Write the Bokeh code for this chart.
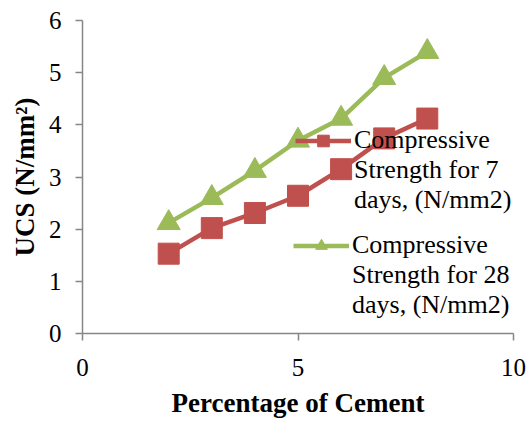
from bokeh.plotting import figure
from bokeh.models import Legend, LegendItem, Range1d, FixedTicker
from bokeh.embed import file_html
from bokeh.resources import INLINE

cement = [2, 3, 4, 5, 6, 7, 8]
ucs_7 = [1.53, 2.02, 2.31, 2.64, 3.15, 3.74, 4.12]
ucs_28 = [2.12, 2.60, 3.12, 3.70, 4.12, 4.90, 5.40]
x_ticks = [0, 5, 10]
y_ticks = [0, 1, 2, 3, 4, 5, 6]
label_7 = ["Compressive", "Strength for 7", "days, (N/mm2)"]
label_28 = ["Compressive", "Strength for 28", "days, (N/mm2)"]

RED = "#C0504D"
GREEN = "#9BBB59"
AXC = "#868686"
FONT = "Liberation Serif"

p = figure(width=528, height=421, output_backend="svg", toolbar_location=None,
           x_range=Range1d(0, 10), y_range=Range1d(0, 6),
           min_border_left=82, min_border_right=15, min_border_top=20, min_border_bottom=88)
p.outline_line_color = None
p.xgrid.grid_line_color = None
p.ygrid.grid_line_color = None

r7l = p.line(cement, ucs_7, line_color=RED, line_width=4.5)
r7m = p.scatter(cement, ucs_7, marker="square", size=21, fill_color=RED, line_color=RED)
r28l = p.line(cement, ucs_28, line_color=GREEN, line_width=4.5)
r28m = p.scatter(cement, ucs_28, marker="triangle", size=23, fill_color=GREEN, line_color=GREEN)

for ax in (p.xaxis[0], p.yaxis[0]):
    ax.axis_line_color = AXC
    ax.axis_line_width = 1.5
    ax.major_tick_line_color = AXC
    ax.major_tick_line_width = 1.5
    ax.major_tick_out = 7
    ax.major_tick_in = 0
    ax.minor_tick_line_color = None
    ax.major_label_text_font = FONT
    ax.major_label_text_font_size = "25px"
    ax.major_label_text_color = "black"
    ax.axis_label_text_font = FONT
    ax.axis_label_text_font_style = "bold"
    ax.axis_label_text_font_size = "27px"
    ax.axis_label_text_color = "black"

p.xaxis.ticker = FixedTicker(ticks=x_ticks)
p.yaxis.ticker = FixedTicker(ticks=y_ticks)
p.xaxis.axis_label = "Percentage of Cement"
p.yaxis.axis_label = "UCS (N/mm\u00b2)"
p.xaxis.major_label_standoff = 18
p.yaxis.major_label_standoff = 14
p.xaxis.axis_label_standoff = 9
p.yaxis.axis_label_standoff = 6


def make_legend(lines, rends, loc):
    items = [LegendItem(label=lines[0], renderers=rends)]
    items += [LegendItem(label=t, renderers=[]) for t in lines[1:]]
    lg = Legend(items=items, location=loc)
    lg.background_fill_alpha = 0
    lg.border_line_alpha = 0
    lg.label_text_font = FONT
    lg.label_text_font_size = "26px"
    lg.label_text_color = "black"
    lg.glyph_width = 56
    lg.glyph_height = 29
    lg.label_height = 29
    lg.label_standoff = 3
    lg.spacing = 0
    lg.padding = 0
    lg.margin = 0
    return lg


p.add_layout(make_legend(label_7, [r7l, r7m], (213, 118)))
p.add_layout(make_legend(label_28, [r28l, r28m], (211, 13)))

open("out.html", "w").write(file_html(p, INLINE))
